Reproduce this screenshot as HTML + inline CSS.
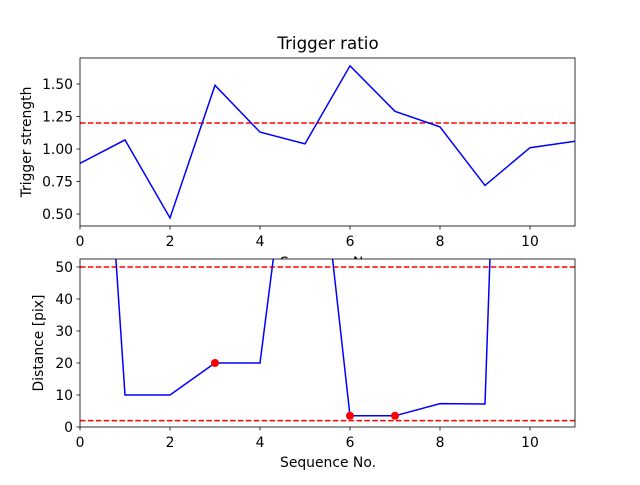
<!DOCTYPE html>
<html><head><meta charset="utf-8"><style>
body{margin:0;background:#fff;}
svg text{font-family:"DejaVu Sans","Liberation Sans",sans-serif;fill:#000;}
</style></head><body>
<svg id="c" width="640" height="480"></svg>
<script>
const seq = [0,1,2,3,4,5,6,7,8,9,10,11];
const ratioValues = [0.89,1.07,0.47,1.49,1.13,1.04,1.64,1.29,1.17,0.72,1.01,1.06];
const ratioThreshold = [1.2];
const distValues = [220,10,10,20,20,130,3.5,3.5,7.3,7.2,420,420];
const distThresholds = [50,2];
const markedIdx = [3,6,7];
const xTicks = [0,2,4,6,8,10];
const ratioTicks = [0.5,0.75,1.0,1.25,1.5];
const ratioTickLabels = ["0.50","0.75","1.00","1.25","1.50"];
const distTicks = [0,10,20,30,40,50];

const NS="http://www.w3.org/2000/svg";
const svg=document.getElementById('c');
const FS=13.9;
function el(tag,attrs,parent,name){const e=document.createElementNS(NS,tag);for(const k in attrs)e.setAttribute(k,attrs[k]);


(parent||svg).appendChild(e);return e;}
function txt(s,attrs,name,parent){const t=el('text',attrs,parent,name);t.textContent=s;return t;}

function panel(o){
  const g=el('g',{},svg,o.name);
  const cid='clip-'+o.name;
  const cp=el('clipPath',{id:cid},g,o.name+'-clip');
  el('rect',{x:o.L,y:o.T,width:o.R-o.L,height:o.B-o.T},cp,o.name+'-clip-rect');
  const xs=v=>o.L+(v-0)/(11-0)*(o.R-o.L);
  const ys=v=>o.B-(v-o.ymin)/(o.ymax-o.ymin)*(o.B-o.T);
  const pg=el('g',{'clip-path':'url(#'+cid+')'},g,o.name+'-plot');
  o.thr.forEach((t,i)=>el('line',{x1:o.L,x2:o.R,y1:ys(t),y2:ys(t),stroke:'#ff0000','stroke-width':1.5,'stroke-dasharray':'5.5,2.4'},pg,'threshold-line-'+i));
  el('polyline',{points:seq.map((s,i)=>xs(s)+','+ys(o.vals[i])).join(' '),fill:'none',stroke:'#0000ff','stroke-width':1.5},pg,o.name+'-line');
  (o.marks||[]).forEach(i=>el('circle',{cx:xs(seq[i]),cy:ys(o.vals[i]),r:4,fill:'#ff0000'},pg,'marker-'+i));
  el('rect',{x:o.L,y:o.T,width:o.R-o.L,height:o.B-o.T,fill:'none',stroke:'#000','stroke-width':0.8},g,o.name+'-frame');
  xTicks.forEach(t=>{el('line',{x1:xs(t),x2:xs(t),y1:o.B,y2:o.B+3.5,stroke:'#000','stroke-width':0.8},g,'x-tick');
    txt(String(t),{x:xs(t),y:o.B+20,'font-size':FS,'text-anchor':'middle'},'x-tick-label',g);});
  o.yt.forEach((t,i)=>{el('line',{x1:o.L-3.5,x2:o.L,y1:ys(t),y2:ys(t),stroke:'#000','stroke-width':0.8},g,'y-tick');
    txt(o.ytl[i],{x:o.L-7,y:ys(t)+5,'font-size':FS,'text-anchor':'end'},'y-tick-label',g);});
  txt(o.ylabel,{x:0,y:0,'font-size':FS,'text-anchor':'middle',transform:`translate(${o.yl},${(o.T+o.B)/2}) rotate(-90)`},'y-axis-title',g);
}
txt('Sequence No.',{x:328,y:267,'font-size':FS,'text-anchor':'middle'},'top-x-axis-title');
panel({name:'ratio-panel',L:80,R:575,T:58,B:226,yl:31,ymin:0.408,ymax:1.70,vals:ratioValues,thr:ratioThreshold,yt:ratioTicks,ytl:ratioTickLabels,ylabel:'Trigger strength'});
el('rect',{x:80,y:259,width:495,height:168,fill:'#fff'},svg,'bottom-bg');
panel({name:'distance-panel',L:80,R:575,T:259,B:427,yl:43,ymin:0,ymax:52.5,vals:distValues,thr:distThresholds,marks:markedIdx,yt:distTicks,ytl:distTicks.map(String),ylabel:'Distance [pix]'});
txt('Sequence No.',{x:328,y:467,'font-size':FS,'text-anchor':'middle'},'bottom-x-axis-title');
txt('Trigger ratio',{x:328,y:49,'font-size':16.7,'text-anchor':'middle'},'chart-title');
</script>
</body></html>
